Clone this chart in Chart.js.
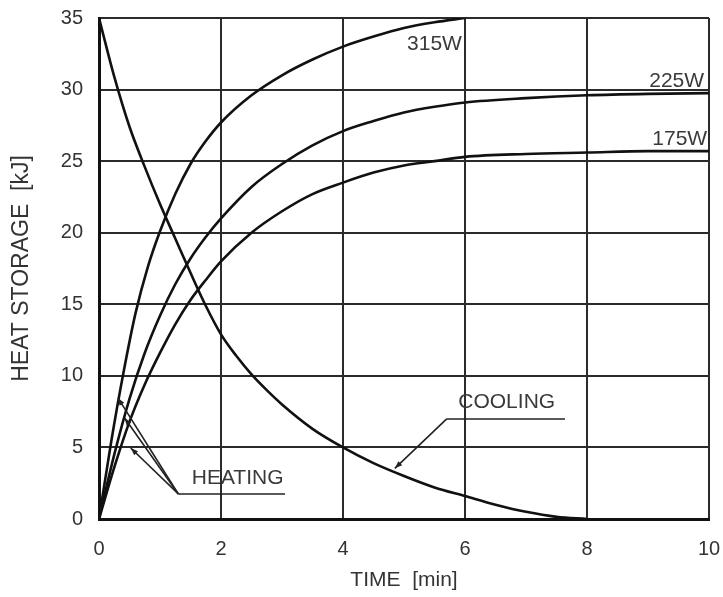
<!DOCTYPE html>
<html>
<head>
<meta charset="utf-8">
<script src="https://cdn.jsdelivr.net/npm/chart.js@4.4.1/dist/chart.umd.min.js"></script>
<style>
  html, body { margin: 0; padding: 0; background: #fff; }
</style>
</head>
<body>
<canvas id="chart" width="723" height="597"></canvas>
<script>
// values (time in min, heat storage in kJ)
const t315 = [0, 0.2, 0.4, 0.6, 0.8, 1.0, 1.25, 1.5, 1.75, 2, 2.5, 3, 3.5, 4, 4.5, 5, 5.5, 6]
const q315 = [0, 5.4, 10.2, 14.4, 17.6, 20.1, 22.7, 24.8, 26.4, 27.7, 29.6, 31.0, 32.1, 33.0, 33.7, 34.3, 34.7, 35]

const t225 = [0, 0.25, 0.5, 0.75, 1, 1.25, 1.5, 1.75, 2, 2.5, 3, 3.5, 4, 4.5, 5, 5.5, 6, 7, 8, 9, 10]
const q225 = [0, 4.5, 8.4, 11.6, 14.2, 16.4, 18.2, 19.7, 21.0, 23.2, 24.8, 26.1, 27.1, 27.8, 28.4, 28.8, 29.1, 29.4, 29.6, 29.7, 29.75]

const t175 = [0, 0.25, 0.5, 0.75, 1, 1.25, 1.5, 1.75, 2, 2.5, 3, 3.5, 4, 4.5, 5, 5.5, 6, 7, 8, 9, 10]
const q175 = [0, 3.6, 6.8, 9.4, 11.6, 13.6, 15.3, 16.7, 18.0, 20.0, 21.5, 22.7, 23.5, 24.2, 24.7, 25.0, 25.3, 25.5, 25.6, 25.7, 25.7]

const tCool = [0, 0.25, 0.5, 0.75, 1, 1.25, 1.5, 1.75, 2, 2.25, 2.5, 2.75, 3, 3.5, 4, 4.5, 5, 5.5, 6, 6.5, 7, 7.5, 8]
const qCool = [35, 30.9, 27.4, 24.6, 22.0, 19.6, 17.2, 14.9, 12.9, 11.4, 10.1, 9.0, 8.0, 6.3, 5.0, 3.9, 3.0, 2.2, 1.6, 1.0, 0.5, 0.15, 0]

const xTicks = [0, 2, 4, 6, 8, 10]
const yTicks = [0, 5, 10, 15, 20, 25, 30, 35]

// labels and leader lines, in data units
const notes = [
  { text: '315W', x: 5.05, y: 33.2 },
  { text: '225W', x: 9.02, y: 30.6 },
  { text: '175W', x: 9.07, y: 26.5 },
  { text: 'HEATING', x: 1.52, y: 2.87 },
  { text: 'COOLING', x: 5.89, y: 8.13 },
]
const underlines = [
  [[1.30, 1.75], [3.05, 1.75]],
  [[5.70, 6.99], [7.64, 6.99]],
]
const leaders = [
  [[1.30, 1.75], [0.31, 8.46]],
  [[1.30, 1.75], [0.42, 7.06]],
  [[1.30, 1.75], [0.52, 4.96]],
  [[5.70, 6.99], [4.85, 3.54]],
]

const toPoints = (xs, ys) => xs.map((x, i) => ({ x, y: ys[i] }))
const FONT = "'Liberation Sans', Arial, sans-serif"
const INK = '#111'

const curve = (label, xs, ys) => ({
  label,
  data: toPoints(xs, ys),
  borderColor: INK,
  borderWidth: 2.6,
  pointRadius: 0,
  fill: false,
  cubicInterpolationMode: 'monotone',
})

const notesPlugin = {
  id: 'notes',
  afterDatasetsDraw(chart) {
    const { ctx, scales: { x, y } } = chart
    const px = p => [x.getPixelForValue(p[0]), y.getPixelForValue(p[1])]
    ctx.save()
    ctx.strokeStyle = '#222'
    ctx.fillStyle = '#222'
    ctx.lineWidth = 1.6
    underlines.concat(leaders).forEach(([a, b]) => {
      const [x1, y1] = px(a), [x2, y2] = px(b)
      ctx.beginPath()
      ctx.moveTo(x1, y1)
      ctx.lineTo(x2, y2)
      ctx.stroke()
    })
    // small arrow heads at the leader tips
    leaders.forEach(([a, b]) => {
      const [x1, y1] = px(a), [x2, y2] = px(b)
      const ang = Math.atan2(y2 - y1, x2 - x1)
      ctx.beginPath()
      ctx.moveTo(x2, y2)
      ctx.lineTo(x2 - 8 * Math.cos(ang - 0.35), y2 - 8 * Math.sin(ang - 0.35))
      ctx.lineTo(x2 - 8 * Math.cos(ang + 0.35), y2 - 8 * Math.sin(ang + 0.35))
      ctx.closePath()
      ctx.fill()
    })
    ctx.font = '21px ' + FONT
    ctx.fillStyle = '#3a3a3a'
    ctx.textAlign = 'left'
    ctx.textBaseline = 'middle'
    notes.forEach(n => {
      const [tx, ty] = px([n.x, n.y])
      ctx.fillText(n.text, tx, ty)
    })
    ctx.restore()
  }
}

new Chart(document.getElementById('chart'), {
  type: 'line',
  data: {
    datasets: [
      curve('315W', t315, q315),
      curve('225W', t225, q225),
      curve('175W', t175, q175),
      curve('Cooling', tCool, qCool),
    ]
  },
  options: {
    responsive: false,
    animation: false,
    layout: { padding: { top: 18, right: 14, left: 0, bottom: 0 } },
    plugins: {
      legend: { display: false },
      tooltip: { enabled: false },
    },
    scales: {
      x: {
        type: 'linear',
        min: 0,
        max: 10,
        afterBuildTicks: s => { s.ticks = xTicks.map(v => ({ value: v })) },
        afterFit: s => { s.height = 78; s.paddingLeft = 0; s.paddingRight = 0 },
        grid: { color: '#2b2b2b', lineWidth: 2, drawTicks: false },
        border: { color: INK, width: 3 },
        ticks: { color: '#333', padding: 18, font: { family: FONT, size: 20 } },
        title: {
          display: true,
          text: 'TIME  [min]',
          color: '#333',
          font: { family: FONT, size: 21 },
          padding: { top: 0, bottom: 4 },
        },
      },
      y: {
        min: 0,
        max: 35,
        afterBuildTicks: s => { s.ticks = yTicks.map(v => ({ value: v })) },
        afterFit: s => { s.width = 99; s.paddingTop = 0; s.paddingBottom = 0 },
        grid: { color: '#2b2b2b', lineWidth: 2, drawTicks: false },
        border: { color: INK, width: 3 },
        ticks: { color: '#333', padding: 16, font: { family: FONT, size: 20 } },
        title: {
          display: true,
          text: 'HEAT STORAGE  [kJ]',
          color: '#333',
          font: { family: FONT, size: 23 },
          padding: { top: 8, bottom: 0 },
        },
      },
    },
  },
  plugins: [notesPlugin],
})
</script>
</body>
</html>
